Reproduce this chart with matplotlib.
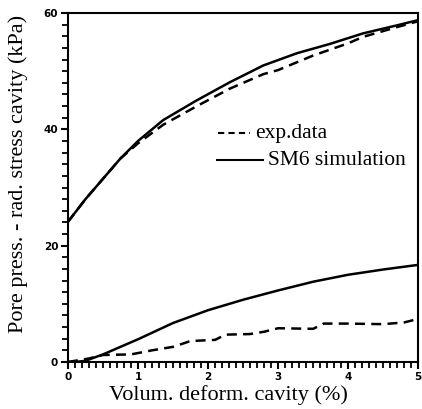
import matplotlib
matplotlib.use('Agg')
import matplotlib.pyplot as plt
from matplotlib.ticker import MultipleLocator

serif = 'Liberation Serif'

# upper pair: pore pressure minus radial stress, SM6 simulation vs experiment
sim_up_x = [0.0, 0.25, 0.5, 0.75, 1.0, 1.36, 1.84, 2.31, 2.79, 3.27, 3.74, 4.21, 4.7, 5.0]
sim_up_y = [24.1, 28.0, 31.5, 35.0, 38.0, 41.6, 45.0, 48.1, 51.0, 53.1, 54.7, 56.5, 57.9, 58.8]

exp_up_x = [0.0, 0.25, 0.5, 0.75, 1.0, 1.36, 1.84, 2.31, 2.79, 3.0, 3.5, 4.0, 4.21, 4.7, 5.0]
exp_up_y = [24.1, 28.0, 31.5, 35.0, 37.6, 40.8, 44.0, 47.0, 49.5, 50.2, 52.7, 54.8, 55.9, 57.6, 58.6]

# lower pair
sim_lo_x = [0.0, 0.1, 0.25, 0.5, 1.0, 1.5, 2.0, 2.5, 3.0, 3.5, 4.0, 4.5, 5.0]
sim_lo_y = [0.0, 0.0, 0.2, 1.3, 3.9, 6.7, 8.9, 10.7, 12.3, 13.8, 15.0, 15.9, 16.7]

exp_lo_x = [0.0, 0.3, 0.5, 0.9, 1.2, 1.5, 1.75, 2.1, 2.25, 2.6, 2.8, 3.0, 3.5, 3.65, 4.0, 4.5, 4.8, 5.0]
exp_lo_y = [0.0, 0.6, 1.2, 1.3, 2.0, 2.6, 3.6, 3.8, 4.7, 4.8, 5.2, 5.8, 5.7, 6.6, 6.6, 6.5, 6.8, 7.4]

fig = plt.figure(figsize=(4.22, 4.09), dpi=100)
ax = fig.add_axes([0.161, 0.115, 0.83, 0.853])

ax.plot(sim_up_x, sim_up_y, color='black', lw=1.8)
ax.plot(exp_up_x, exp_up_y, color='black', lw=1.8, ls=(0, (4, 2.5)))
ax.plot(sim_lo_x, sim_lo_y, color='black', lw=1.8)
ax.plot(exp_lo_x, exp_lo_y, color='black', lw=1.8, ls=(0, (4, 2.5)))

ax.set_xlim(0, 5)
ax.set_ylim(0, 60)
ax.xaxis.set_major_locator(MultipleLocator(1))
ax.xaxis.set_minor_locator(MultipleLocator(0.1))
ax.yaxis.set_major_locator(MultipleLocator(20))
ax.yaxis.set_minor_locator(MultipleLocator(2))
ax.tick_params(which='major', direction='out', length=5, width=1.5, labelsize=7.5, pad=2)
ax.tick_params(which='minor', direction='out', length=4, width=1.3)
for lab in ax.get_xticklabels() + ax.get_yticklabels():
    lab.set_fontweight('bold')
for sp in ax.spines.values():
    sp.set_linewidth(1.5)

ax.set_xlabel('Volum. deform. cavity (%)', family=serif, fontsize=16, labelpad=1)
ax.set_ylabel('Pore press. - rad. stress cavity (kPa)', family=serif, fontsize=16, labelpad=3)
ax.xaxis.set_label_coords(0.457, -0.065)
ax.yaxis.set_label_coords(-0.115, 0.54)

# legend drawn by hand inside the axes
ax.plot([2.14, 2.6], [39.3, 39.3], color='black', lw=1.5, ls=(0, (3, 2)))
ax.text(2.67, 39.3, 'exp.data', family=serif, fontsize=15.5, va='center')
ax.plot([2.13, 2.78], [34.8, 34.8], color='black', lw=1.5)
ax.text(2.85, 34.6, 'SM6 simulation', family=serif, fontsize=15.5, va='center')

plt.savefig('out.png', dpi=100)
